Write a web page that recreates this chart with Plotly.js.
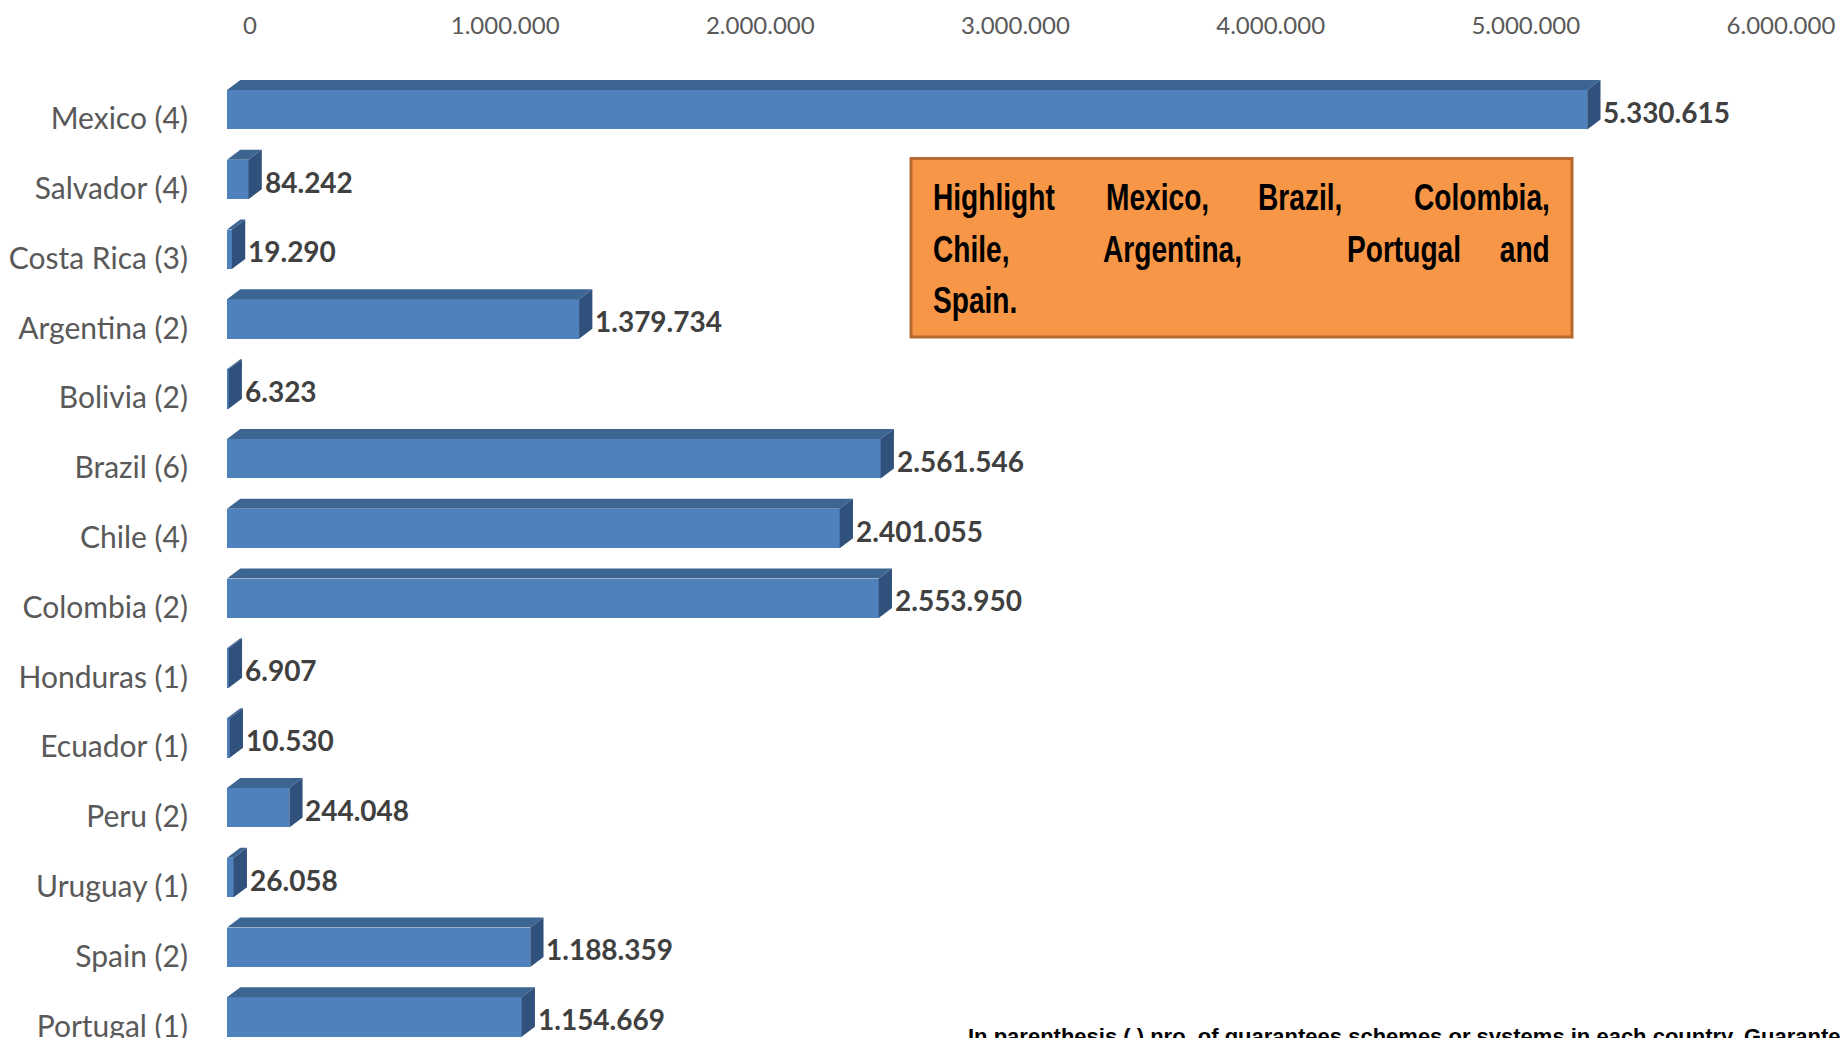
<!DOCTYPE html>
<html>
<head>
<meta charset="utf-8">
<script src="https://cdn.plot.ly/plotly-3.0.1.min.js"></script>
<style>html,body{margin:0;padding:0;background:#fff;}#chart{width:1840px;height:1038px;}</style>
</head>
<body>
<div id="chart"></div>
<script>
// ---- data ----
const countries = ["Mexico", "Salvador", "Costa Rica", "Argentina", "Bolivia", "Brazil", "Chile", "Colombia", "Honduras", "Ecuador", "Peru", "Uruguay", "Spain", "Portugal"];
const schemes = [4, 4, 3, 2, 2, 6, 4, 2, 1, 1, 2, 1, 2, 1];
const values = [5330615, 84242, 19290, 1379734, 6323, 2561546, 2401055, 2553950, 6907, 10530, 244048, 26058, 1188359, 1154669];
const xTickVals = [0, 1000000, 2000000, 3000000, 4000000, 5000000, 6000000];
const boxLines = [["Highlight", "Mexico,", "Brazil,", "Colombia,"], ["Chile,", "Argentina,", "Portugal", "and"], ["Spain."]];
const noteText = "In parenthesis (.) nro. of guarantees schemes or systems in each country. Guarantees";

// ---- layout constants ----
const W = 1840, H = 1038;
const M = {l: 227, r: 82, t: 60, b: 0};
const PW = W - M.l - M.r, PH = H - M.t - M.b;
const XMAX = 6000000;
const catPx = 69.8;                 // pixels per category
const yTop = -49.7 / catPx;         // range top
const yBot = yTop + PH / catPx;     // range bottom
const barW = 0.566;
const depthX = 13.3, depthY = 10;   // 3D depth in px
const dxD = depthX * XMAX / PW;
const dyD = depthY / catPx;

const front = '#4F81BD', topC = '#3D6592', sideC = '#30517B';

const idx = countries.map((c, i) => i);
const labels = countries.map((c, i) => c + ' (' + schemes[i] + ')');
const fmt = v => String(v).replace(/\B(?=(\d{3})+(?!\d))/g, '.');

const shapes = [];
values.forEach((v, i) => {
  const y0 = i - barW / 2, y1 = i + barW / 2;
  shapes.push({type: 'path', xref: 'x', yref: 'y', layer: 'above', line: {width: 0},
    fillcolor: topC,
    path: `M 0,${y0} L ${v},${y0} L ${v + dxD},${y0 - dyD} L ${dxD},${y0 - dyD} Z`});
  shapes.push({type: 'path', xref: 'x', yref: 'y', layer: 'above', line: {width: 0},
    fillcolor: sideC,
    path: `M ${v},${y0} L ${v + dxD},${y0 - dyD} L ${v + dxD},${y1 - dyD} L ${v},${y1} Z`});
});

const px2x = X => (X - M.l) / PW;
const px2y = Y => (H - M.b - Y) / PH;

// orange box
shapes.push({type: 'rect', xref: 'paper', yref: 'paper',
  x0: px2x(911), x1: px2x(1572), y0: px2y(337), y1: px2y(158.5),
  fillcolor: '#F79646', line: {color: '#B8692F', width: 3}, layer: 'above'});

const annotations = values.map((v, i) => ({
  x: v, y: i, xref: 'x', yref: 'y', text: fmt(v), showarrow: false,
  xanchor: 'left', yanchor: 'middle', xshift: 14, yshift: -2,
  font: {family: 'Lato, Calibri, sans-serif', size: 28, color: '#404040', weight: 'bold'}
}));

const boxFont = {family: '"Liberation Sans Narrow", "Arial Narrow", "Liberation Sans", Arial, sans-serif', size: 37, color: '#000000', weight: 'bold'};
const lineY = [197, 249, 300.5];
const wordLeft = [[930.6, 1104, 1255.6, null], [930.6, 1100.7, 1344.8, null], [930.6]];
const boxWords = [];
boxLines.forEach((words, li) => {
  words.forEach((w, wi) => {
    const isLast = wi === words.length - 1 && words.length > 1;
    boxWords.push({text: w, right: isLast});
    annotations.push({
      xref: 'paper', yref: 'paper', showarrow: false, text: w,
      x: isLast ? px2x(1551.5) : px2x(wordLeft[li][wi]),
      xanchor: isLast ? 'right' : 'left',
      y: px2y(lineY[li]), yanchor: 'middle', font: boxFont
    });
  });
});

annotations.push({xref: 'paper', yref: 'paper', showarrow: false, text: noteText,
  x: px2x(966), xanchor: 'left', y: px2y(1022), yanchor: 'top',
  font: {family: '"Liberation Sans Narrow", "Arial Narrow", "Liberation Sans", Arial, sans-serif', size: 22, color: '#000000', weight: 'bold'}});

const data = [{
  type: 'bar', orientation: 'h', x: values, y: idx, width: barW, base: 0,
  marker: {color: front, line: {width: 0}}, hoverinfo: 'skip'
}];

const layout = {
  width: W, height: H, margin: M, paper_bgcolor: '#ffffff', plot_bgcolor: '#ffffff',
  separators: ',.', showlegend: false,
  font: {family: 'Lato, Calibri, sans-serif', color: '#595959'},
  xaxis: {side: 'top', range: [0, XMAX], tickvals: xTickVals, tickformat: ',',
    showgrid: false, zeroline: false, showline: false, ticks: '',
    tickfont: {family: 'Lato, Calibri, sans-serif', size: 24, color: '#595959'},
    ticklabelshift: 23, ticklabelstandoff: 20, ticklabeloverflow: 'allow', fixedrange: true},
  yaxis: {range: [yBot, yTop], tickvals: idx, ticktext: labels,
    showgrid: false, zeroline: false, showline: false, ticks: '',
    tickfont: {family: 'Lato, Calibri, sans-serif', size: 30, color: '#595959'},
    ticklabelshift: -9, ticklabelstandoff: 38, ticklabeloverflow: 'allow', fixedrange: true},
  shapes: shapes, annotations: annotations, bargap: 0
};

Plotly.newPlot('chart', data, layout, {displayModeBar: false, staticPlot: true}).then(gd => {
  // condense the box text horizontally (the original uses a narrow bold face)
  const texts = gd.querySelectorAll('.annotation-text');
  texts.forEach(t => {
    const bw = boxWords.find(b => b.text === t.textContent);
    if (!bw) return;
    t.style.transformBox = 'fill-box';
    t.style.transformOrigin = bw.right ? 'right center' : 'left center';
    t.style.transform = 'scaleX(0.76)';
  });
});
</script>
</body>
</html>
